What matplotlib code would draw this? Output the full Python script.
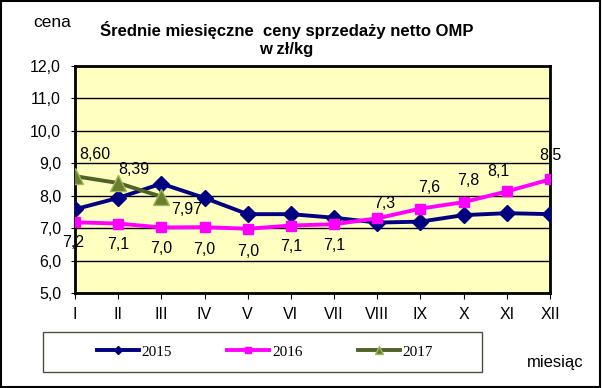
import matplotlib
matplotlib.use('Agg')
import matplotlib.pyplot as plt
from matplotlib.patches import Rectangle

months = ['I', 'II', 'III', 'IV', 'V', 'VI', 'VII', 'VIII', 'IX', 'X', 'XI', 'XII']
ceny_2015 = [7.58, 7.93, 8.37, 7.93, 7.43, 7.43, 7.32, 7.17, 7.2, 7.4, 7.46, 7.43]
ceny_2016 = [7.18, 7.14, 7.02, 7.03, 6.98, 7.08, 7.12, 7.3, 7.6, 7.8, 8.13, 8.5]
ceny_2017 = [8.60, 8.39, 7.97]
yticks = [5.0, 6.0, 7.0, 8.0, 9.0, 10.0, 11.0, 12.0]

plt.rcParams['font.family'] = ['Liberation Sans', 'DejaVu Sans']
FS = 11.5


def pl(v, fmt='%.1f'):
    return (fmt % v).replace('.', ',')


fig = plt.figure(figsize=(6.02, 3.88), dpi=100)
fig.patches.append(Rectangle((0.002, 0.003), 0.995, 0.994, transform=fig.transFigure,
                             fill=False, edgecolor='black', linewidth=1.5))
ax = fig.add_axes([0.1245, 0.2448, 0.7891, 0.5855])
ax.set_facecolor('#FFFFC0')

x = list(range(len(months)))
l15, = ax.plot(x, ceny_2015, color='#000080', lw=2.8, marker='D', ms=8,
               label='2015', zorder=3)
l16, = ax.plot(x, ceny_2016, color='#FF00FF', lw=2.8, marker='s', ms=7.5,
               label='2016', zorder=4)
l17, = ax.plot(x[:len(ceny_2017)], ceny_2017, color='#4F6228', lw=2.8, marker='^',
               ms=11, markerfacecolor='#6B7D2F', markeredgecolor='#9BBB59',
               label='2017', zorder=5)

# label offsets in points (dx, dy)
offs_16 = [(-1, -9), (0, -10), (0, -10), (0, -11), (0, -11), (0, -10), (0, -10),
           (5, 5), (6, 10), (3, 10), (-6, 9), (0, 12)]
for i, v in enumerate(ceny_2016):
    dx, dy = offs_16[i]
    ax.annotate(pl(v), (i, v), xytext=(dx, dy), textcoords='offset points',
                ha='center', va='top' if dy < 0 else 'bottom', fontsize=FS)
offs_17 = [(3, 10, 'bottom'), (0, 4, 'bottom'), (7, -4, 'top')]
for i, v in enumerate(ceny_2017):
    dx, dy, va = offs_17[i]
    ax.annotate(pl(v, '%.2f'), (i, v), xytext=(dx, dy),
                textcoords='offset points', ha='left', va=va, fontsize=FS)

ax.set_xlim(0, 11)
ax.set_ylim(5, 12)
ax.set_yticks(yticks)
ax.set_yticklabels([pl(t) for t in yticks], fontsize=FS)
ax.set_xticks(x)
ax.set_xticklabels(months, fontsize=FS)
ax.tick_params(axis='x', length=4, pad=6)
ax.tick_params(axis='y', length=3, pad=7)
ax.grid(axis='y', color='black', lw=1)
for s in ax.spines.values():
    s.set_linewidth(2)
ax.set_axisbelow(True)

fig.text(0.476, 0.922, 'Średnie miesięczne  ceny sprzedaży netto OMP',
         ha='center', va='center', fontsize=12, fontweight='bold')
fig.text(0.476, 0.873, 'w zł/kg', ha='center', va='center', fontsize=12, fontweight='bold')
fig.text(0.086, 0.930, 'cena', ha='center', va='baseline', fontsize=12.5)
fig.text(0.922, 0.054, 'miesiąc', ha='center', va='baseline', fontsize=12)

# legend box
fig.patches.append(Rectangle((0.072, 0.041), 0.729, 0.103, transform=fig.transFigure,
                             fill=False, edgecolor='#4F4F3F', linewidth=1))
leg = fig.legend(handles=[l15, l16, l17], loc='center', ncol=3,
                 bbox_to_anchor=(0.440, 0.093), frameon=False,
                 prop={'family': 'Liberation Serif', 'size': 11},
                 handlelength=2.75, handletextpad=0.2, columnspacing=3.6,
                 markerscale=0.5)

fig.savefig('out.png', dpi=100)
